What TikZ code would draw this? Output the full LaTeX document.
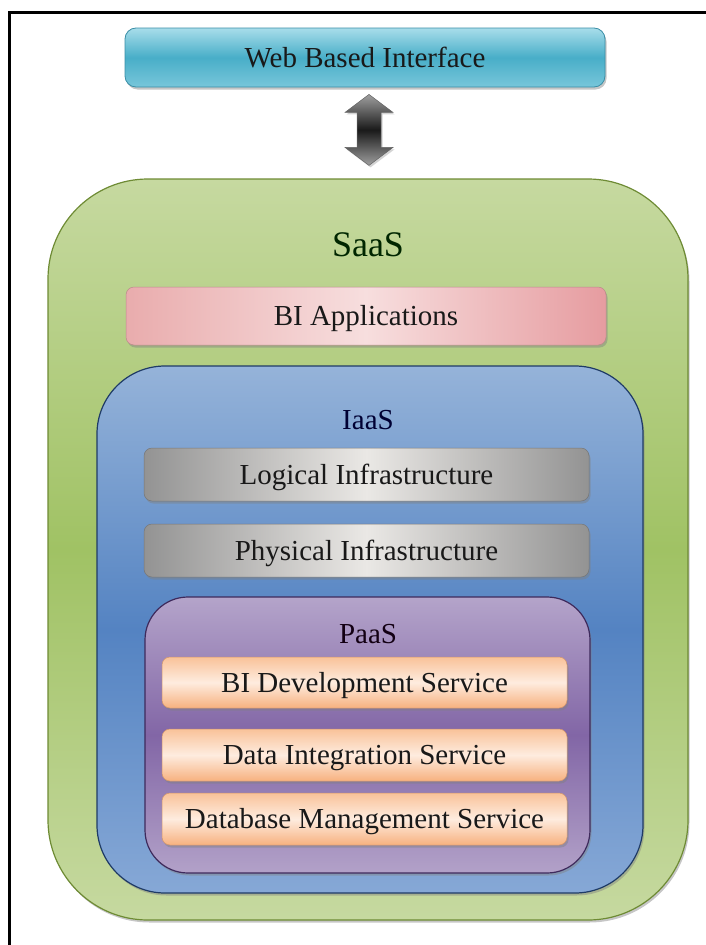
\documentclass[tikz,border=0pt]{standalone}
\usepackage{fontspec}
\setmainfont{Liberation Serif}
\usetikzlibrary{shadows,calc}
\definecolor{webtop}{HTML}{A8DDEA}
\definecolor{webmid}{HTML}{48AEC8}
\definecolor{webbot}{HTML}{78C6DA}
\definecolor{webline}{HTML}{3A8EA6}
\definecolor{grtop}{HTML}{C6D9A0}
\definecolor{grmid}{HTML}{A0C264}
\definecolor{grline}{HTML}{6E8B34}
\definecolor{pkleft}{HTML}{E9ACAD}
\definecolor{pkmid}{HTML}{F7DEDE}
\definecolor{pkright}{HTML}{E69CA0}
\definecolor{bltop}{HTML}{95B3D9}
\definecolor{blmid}{HTML}{5483C2}
\definecolor{blbot}{HTML}{86A8D6}
\definecolor{blline}{HTML}{1F3B66}
\definecolor{gyedge}{HTML}{939393}
\definecolor{gymid}{HTML}{EAE8E5}
\definecolor{pptop}{HTML}{B4A4CA}
\definecolor{ppmid}{HTML}{8266A6}
\definecolor{ppbot}{HTML}{B2A1C8}
\definecolor{ppline}{HTML}{3E2A5C}
\definecolor{ortop}{HTML}{F9C299}
\definecolor{ormid}{HTML}{FEECDF}
\definecolor{orbot}{HTML}{F7B17F}
\begin{document}
\begin{tikzpicture}[x=1pt,y=1pt,
  shad/.style={drop shadow={shadow xshift=1.5pt, shadow yshift=-2.5pt, opacity=0.45}},
  layer/.style={rectangle, inner sep=0pt, shad},
  bar/.style={layer, rounded corners=8pt, font=\fontsize{29}{31}\selectfont,
    text height=19pt, text depth=0pt, text=black!90},
  webbox/.style={bar, top color=webtop, bottom color=webbot, middle color=webmid,
    draw=webline, line width=0.8pt, rounded corners=11pt},
  pinkbox/.style={bar, left color=pkleft, right color=pkright, middle color=pkmid,
    draw=pkleft!80!black, line width=0.5pt},
  greybox/.style={bar, left color=gyedge, right color=gyedge, middle color=gymid,
    draw=gyedge!80!black, line width=0.5pt},
  orangebox/.style={bar, top color=ortop, bottom color=orbot, middle color=ormid,
    draw=orbot!85!black, line width=0.5pt},
  title/.style={inner sep=0pt, anchor=base},
]
\useasboundingbox (0,0) rectangle (705,-945);
\draw[line width=3pt] (9.5,-945) -- (9.5,-12.5) -- (710,-12.5);

% top interface
\node[webbox, minimum width=480pt, minimum height=59pt] (web) at (365,-57.5) {Web Based Interface};

% SaaS container
\node[layer, minimum width=640pt, minimum height=741pt, rounded corners=100pt,
  top color=grtop, bottom color=grtop, middle color=grmid, draw=grline, line width=1.2pt]
  (saas) at (368,-549.5) {};
\node[title, font=\fontsize{36}{38}\selectfont, text=black!85!green] (saasl) at (368,-256) {SaaS};
\node[pinkbox, minimum width=480pt, minimum height=58pt] (bia) at (366,-316) {BI Applications};

% IaaS container
\node[layer, minimum width=546pt, minimum height=527pt, rounded corners=68pt,
  top color=bltop, bottom color=blbot, middle color=blmid, draw=blline, line width=1.2pt]
  (iaas) at (370,-629.5) {};
\node[title, font=\fontsize{29}{31}\selectfont, text=black!80!blue] (iaasl) at (368,-429) {IaaS};
\node[greybox, minimum width=445pt, minimum height=53pt] (logi) at (366.5,-474.5) {Logical Infrastructure};
\node[greybox, minimum width=445pt, minimum height=53pt] (phys) at (366.5,-550.5) {Physical Infrastructure};

% PaaS container
\node[layer, minimum width=445pt, minimum height=276pt, rounded corners=43pt,
  top color=pptop, bottom color=ppbot, middle color=ppmid, draw=ppline, line width=1.2pt]
  (paas) at (367.5,-735) {};
\node[title, font=\fontsize{29}{31}\selectfont, text=black!85!violet] (paasl) at (368,-643) {PaaS};
\node[orangebox, minimum width=405pt, minimum height=51pt] (bidev) at (364.5,-682.5) {BI Development Service};
\node[orangebox, minimum width=405pt, minimum height=52pt] (dint) at (364.5,-755) {Data Integration Service};
\node[orangebox, minimum width=405pt, minimum height=52pt] (dbms) at (364.5,-819) {Database Management Service};

% double arrow between interface and SaaS
\coordinate (t1) at ($(web.south)+(4,-7)$);
\coordinate (t2) at ($(saas.north)+(1,13)$);
\shade[top color=gray!75, bottom color=gray!75, middle color=black!90, draw=black!60, line width=0.5pt,
  drop shadow={shadow xshift=1.5pt, shadow yshift=-2pt, opacity=0.35}]
  (t1) -- ($(t1)+(24,-18)$) -- ($(t1)+(12,-18)$) -- ($(t2)+(12,18)$) -- ($(t2)+(24,18)$)
  -- (t2) -- ($(t2)+(-24,18)$) -- ($(t2)+(-12,18)$) -- ($(t1)+(-12,-18)$) -- ($(t1)+(-24,-18)$) -- cycle;
\end{tikzpicture}
\end{document}
